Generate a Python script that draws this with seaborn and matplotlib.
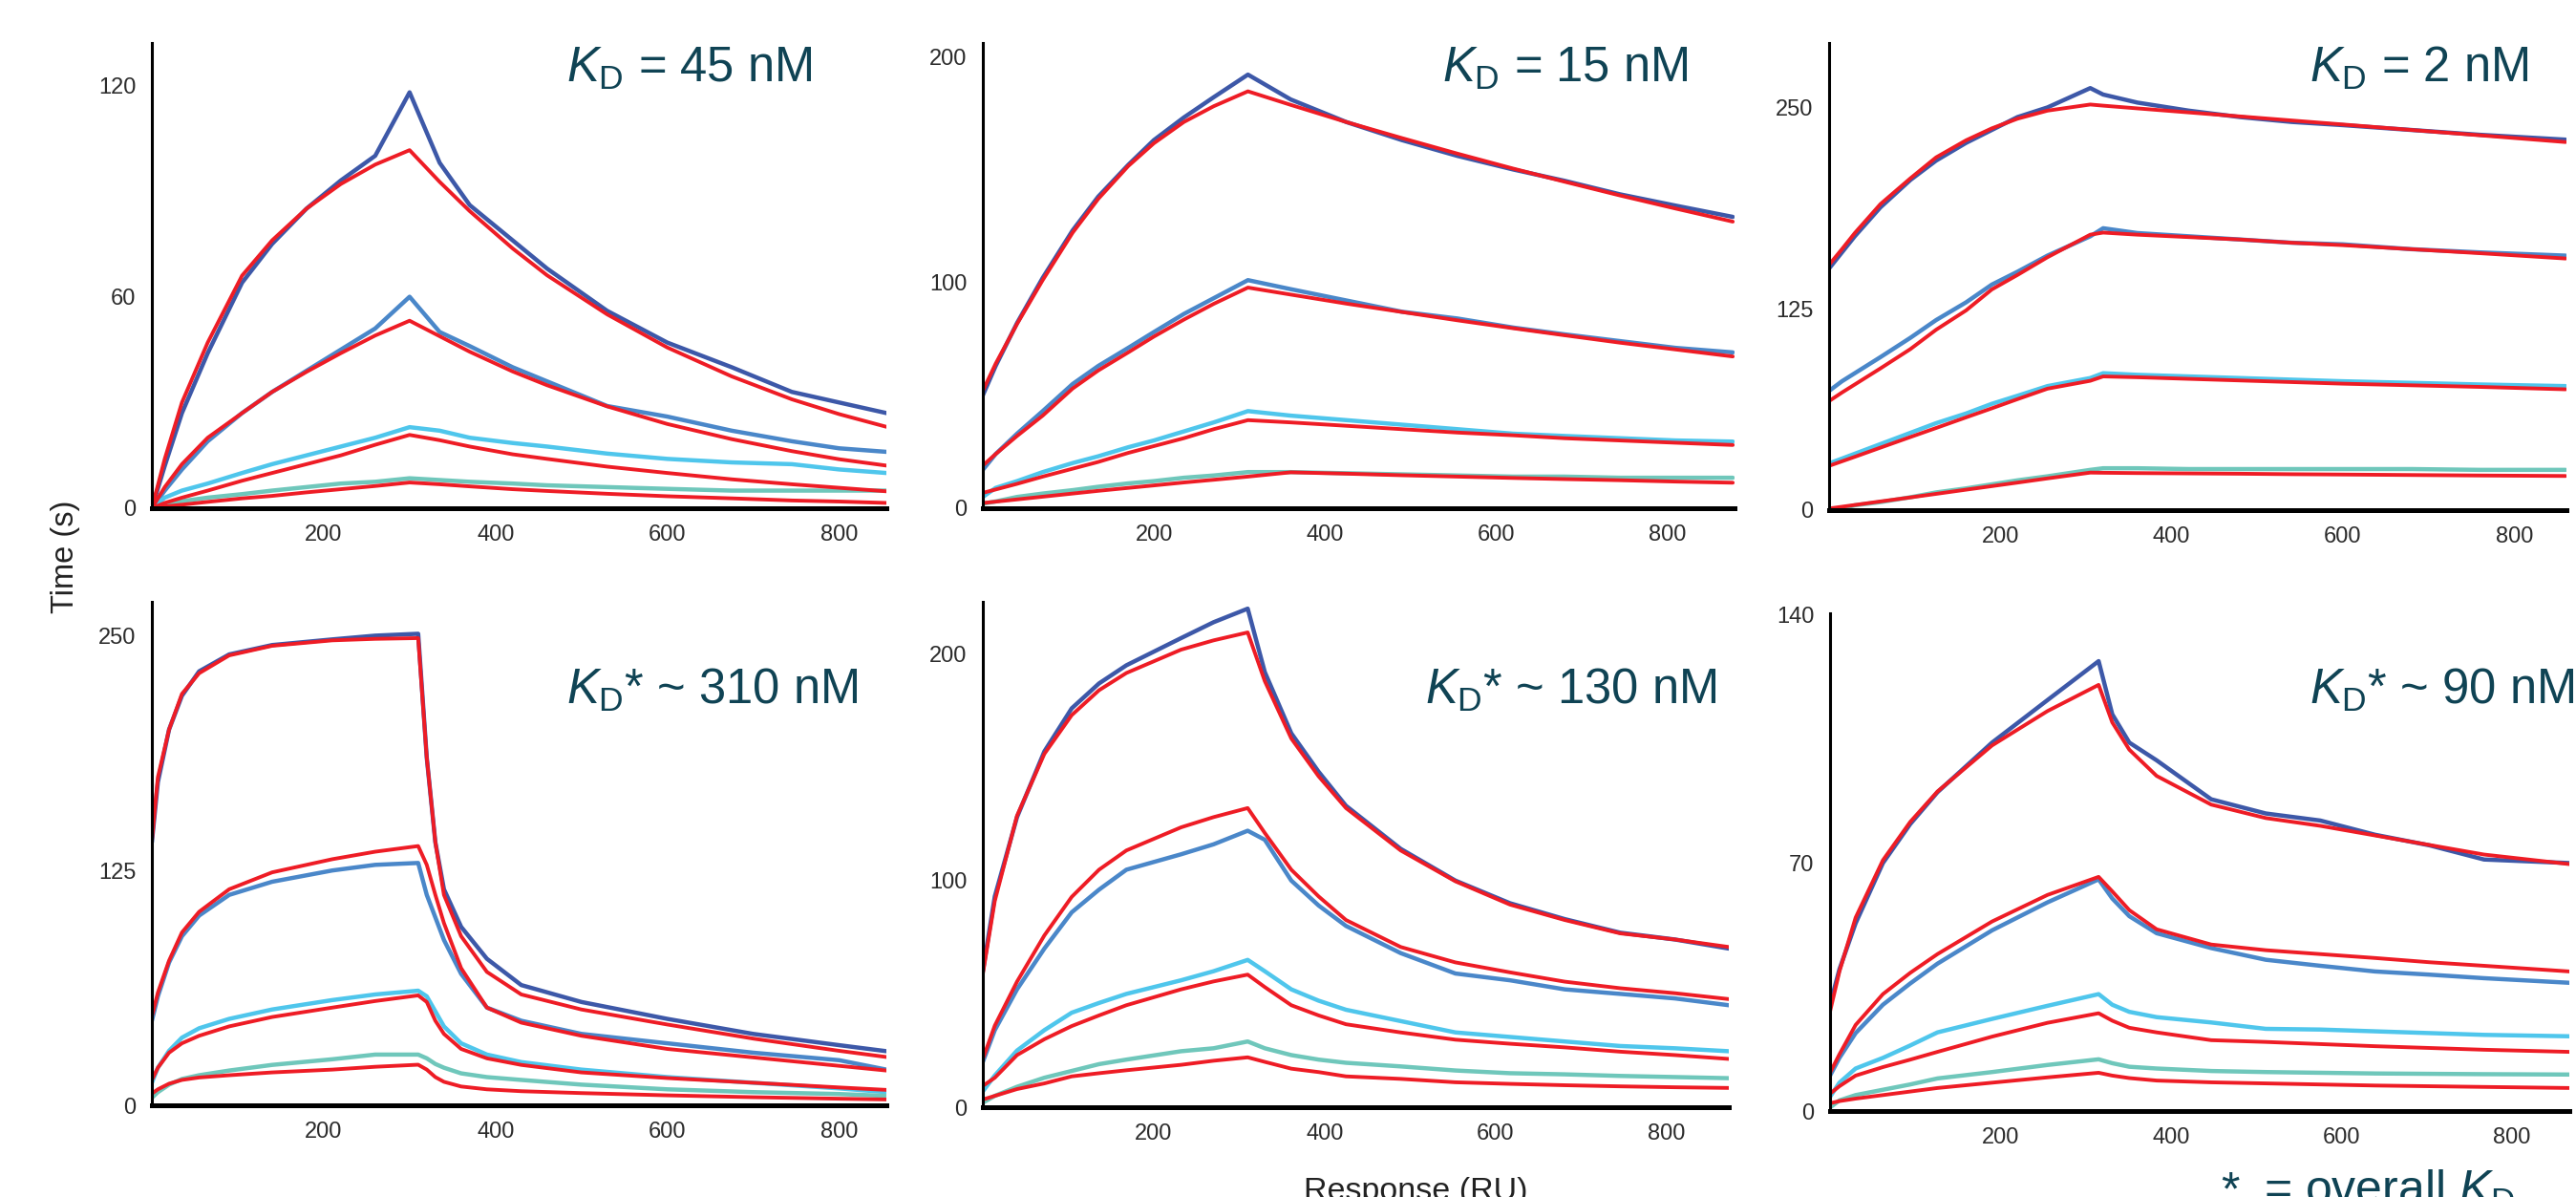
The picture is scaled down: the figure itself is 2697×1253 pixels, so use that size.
import matplotlib
matplotlib.use("Agg")
import matplotlib.pyplot as plt
import pandas as pd
import seaborn as sns

# === Sensorgram values (4 concentrations per panel) ===
conc_levels = ["high", "mid", "low", "lowest"]

# KD = 45 nM
t_kd45 = [0, 15, 35, 65, 105, 140, 180, 220, 260, 300, 335, 370, 420, 460, 530, 600, 675, 745, 800, 855]
obs_kd45 = [
    [0, 12, 27, 44, 64, 75, 85, 93, 100, 118, 98, 86, 76, 68, 56, 47, 40, 33, 30, 27],
    [0, 5, 11, 19, 27, 33, 39, 45, 51, 60, 50, 46, 40, 36, 29, 26, 22, 19, 17, 16],
    [0, 3, 5, 7, 10, 12.5, 15, 17.5, 20, 23, 22, 20, 18.5, 17.5, 15.5, 14, 13, 12.5, 11, 10],
    [0, 1, 2, 3, 4, 5, 6, 7, 7.5, 8.5, 8, 7.5, 7, 6.5, 6, 5.5, 5, 5, 5, 5],
]
fit_kd45 = [
    [0, 14, 30, 47, 66, 76, 85, 92, 97.5, 101.6, 92.6, 84.3, 73.7, 66.1, 55, 45.6, 37.4, 30.9, 26.7, 23.1],
    [0, 6, 12.5, 20, 27, 33, 38.7, 44, 49, 53.2, 48.8, 44.4, 38.8, 34.9, 28.9, 23.9, 19.6, 16.2, 13.9, 12.1],
    [0, 1.5, 3, 5, 7.8, 10, 12.5, 15, 18, 20.8, 19.3, 17.5, 15.3, 14, 11.8, 10, 8.2, 6.8, 5.8, 4.8],
    [0, 0.5, 1, 1.8, 2.8, 3.5, 4.5, 5.4, 6.3, 7.3, 6.8, 6.2, 5.4, 4.9, 4.1, 3.4, 2.8, 2.2, 1.9, 1.5],
]

# KD = 15 nM
t_kd15 = [0, 15, 40, 70, 105, 135, 170, 200, 235, 270, 310, 360, 425, 490, 555, 620, 680, 745, 810, 877]
obs_kd15 = [
    [50, 63, 82, 102, 123, 138, 152, 163, 173, 182, 192, 181, 171, 163, 156, 150, 145, 139, 134, 129],
    [17, 24, 33, 43, 55, 63, 71, 78, 86, 93, 101, 97, 92, 87, 84, 80, 77, 74, 71, 69],
    [5, 9, 12, 16, 20, 23, 27, 30, 34, 38, 43, 41, 39, 37, 35, 33, 32, 31, 30, 29.5],
    [2, 3, 5, 6.5, 8, 9.5, 11, 12, 13.5, 14.5, 16, 16, 15.5, 15, 14.5, 14, 14, 13.5, 13.5, 13.5],
]
fit_kd15 = [
    [52, 64, 81.6, 101, 122, 137, 151.5, 161.6, 171, 178, 184.6, 178.6, 171, 163.9, 157, 150.4, 144.6, 138.5, 132.7, 126.9],
    [18.9, 24, 32, 41, 53, 61, 69, 76, 83.5, 90.5, 97.7, 94.6, 90.6, 86.9, 83.2, 79.7, 76.6, 73.3, 70.3, 67.2],
    [6.8, 8.3, 10.8, 14, 17.5, 20.5, 24.5, 27.5, 31, 35, 39, 38, 36.5, 35, 33.5, 32.3, 31, 30, 29, 28],
    [2.3, 2.9, 3.9, 5.1, 6.5, 7.7, 9, 10.1, 11.4, 12.6, 14, 15.9, 15.3, 14.6, 14, 13.4, 12.9, 12.4, 11.8, 11.3],
]

# KD = 2 nM
t_kd2 = [0, 15, 30, 60, 95, 125, 160, 190, 220, 255, 305, 320, 360, 420, 480, 540, 600, 680, 760, 860]
obs_kd2 = [
    [150, 160, 170, 188, 205, 217, 228, 236, 244, 250, 262, 258, 253, 248, 244, 241, 239, 236, 233, 230],
    [74, 80, 85, 95, 107, 118, 129, 140, 148, 158, 170, 175, 172, 170, 168, 166, 165, 162, 160, 158],
    [29, 32, 35, 41, 48, 54, 60, 66, 71, 77, 82, 85, 84, 83, 82, 81, 80, 79, 78, 77],
    [0, 1, 3, 5, 8, 11, 13.5, 16, 18.5, 21, 25, 26, 26, 25.5, 25.5, 25.5, 25.5, 25.5, 25, 25],
]
fit_kd2 = [
    [152.3, 162, 172, 190, 206, 219, 229.6, 237, 243, 248, 251.8, 251.1, 249.4, 246.9, 244.4, 241.9, 239.4, 236, 232.7, 228.5],
    [67.7, 73, 78, 88, 100, 112, 124, 137, 146, 157, 171, 172.3, 171, 169.5, 168, 166, 164.5, 162, 159.5, 156.2],
    [27.5, 30.3, 33.1, 38.8, 45.4, 51, 57.6, 63.2, 68.9, 75.4, 80.3, 83, 82.5, 81.5, 80.5, 79.5, 78.5, 77.5, 76.5, 75],
    [1, 2.1, 3.2, 5.4, 7.9, 10.1, 12.7, 14.9, 17.1, 19.7, 23.3, 23.2, 23, 22.8, 22.6, 22.3, 22.1, 21.8, 21.5, 21.2],
]

# KD* ~ 310 nM
t_kd310 = [0, 7, 20, 35, 55, 90, 140, 210, 260, 310, 320, 330, 340, 360, 390, 430, 500, 600, 700, 800, 855]
obs_kd310 = [
    [140, 172, 200, 218, 231, 240, 245, 248, 250, 251, 185, 140, 115, 95, 78, 64, 55, 46, 38, 32, 28.8],
    [45, 58, 76, 90, 101, 112, 119, 125, 128, 129, 112, 100, 88, 70, 52, 45, 38, 33, 28, 24, 19],
    [12, 20, 29, 36, 41, 46, 51, 56, 59, 61, 58, 50, 42, 33, 27, 23, 19, 15, 12, 9, 7],
    [4, 7, 11, 14, 16, 18.5, 21.5, 24.5, 27, 27, 25, 22, 20, 17, 15, 13.5, 11, 8.5, 7, 6, 5],
]
fit_kd310 = [
    [140.8, 174.7, 200, 219, 230, 239.5, 244.6, 247.5, 248.3, 248.7, 185, 140, 112, 90, 71, 59, 51, 43, 35.5, 29, 25.7],
    [47.3, 60, 77, 92, 103, 115, 124, 131, 135, 138, 128, 112, 97, 73, 52, 44, 37, 30, 25.5, 21, 18.5],
    [13.4, 20, 28, 33, 37, 42, 47, 52, 55.5, 58.5, 55, 45, 38, 30, 25, 21.5, 17.5, 14.5, 12, 9.5, 8.2],
    [6.2, 8.5, 11.5, 13.5, 14.8, 16, 17.5, 19, 20.5, 21.6, 19, 15, 12.5, 10, 8.5, 7.5, 6.5, 5.3, 4.3, 3.5, 3.1],
]

# KD* ~ 130 nM
t_kd130 = [0, 14, 40, 72, 104, 136, 168, 232, 270, 310, 330, 361, 393, 425, 489, 553, 617, 681, 746, 810, 873]
obs_kd130 = [
    [60, 93, 128, 157, 176, 187, 195, 207, 214, 220, 192, 165, 148, 133, 114, 100, 90, 83, 77, 74, 70],
    [20, 34, 52, 70, 86, 96, 104.8, 111.6, 116, 122, 118, 100, 89, 80, 68, 59, 56, 52, 50, 48, 45],
    [7, 14, 25, 34, 41.7, 46, 50, 56, 60, 65, 60, 52, 47, 43, 38, 33, 31, 29, 27, 26, 24.7],
    [2, 5, 9, 13, 16, 19, 21, 24.7, 26, 29, 26, 23, 21, 19.6, 18, 16.2, 15, 14.5, 13.8, 13.3, 12.8],
]
fit_kd130 = [
    [58.8, 91, 128.6, 155.9, 173, 184, 191.6, 201.9, 206, 209.5, 188, 162.7, 146, 132, 113.3, 99.7, 89.4, 82.6, 76.7, 74, 70.7],
    [21.3, 36, 55.4, 75.8, 92.8, 104.8, 113.3, 123.5, 128, 132, 121, 104.8, 93, 82.6, 70.7, 63.9, 59.5, 55.4, 52.5, 50.3, 47.7],
    [9.4, 13, 23, 30, 35.8, 40.5, 45, 52, 55.5, 58.5, 53, 45, 40.5, 36.6, 33, 29.8, 28, 26.4, 24.5, 23, 21.3],
    [3.4, 5, 8, 10.5, 13.6, 15, 16.3, 18.7, 20.5, 22, 20, 17, 15.5, 13.6, 12.5, 11, 10.3, 9.7, 9.2, 8.8, 8.5],
]

# KD* ~ 90 nM
t_kd90 = [0, 11, 30, 62, 94, 126, 190, 255, 315, 331, 351, 383, 447, 511, 575, 639, 703, 767, 867]
obs_kd90 = [
    [30, 40, 53, 70, 81, 90, 104, 116, 127, 112, 104, 99, 88, 84, 82, 78, 75, 71, 70],
    [10, 15, 22, 30, 36, 41.6, 51, 58.9, 65.4, 60, 55, 50.2, 46, 42.7, 41, 39.4, 38.5, 37.5, 36.2],
    [4, 8, 12, 15, 18.5, 22.2, 26, 29.7, 33, 30, 28, 26.5, 25, 23.2, 23, 22.5, 22, 21.5, 21.1],
    [1, 3, 4.5, 6, 7.5, 9.2, 11, 13, 14.6, 13.5, 12.5, 12, 11.3, 11, 10.8, 10.6, 10.5, 10.4, 10.3],
]
fit_kd90 = [
    [28.1, 39.4, 54.6, 70.8, 81.6, 90.2, 103.2, 112.9, 120.3, 109.7, 102, 94.6, 86.5, 82.7, 80.5, 77.8, 75.1, 72.4, 69.7],
    [10.8, 16, 24.3, 33, 39, 44.3, 53.5, 61, 66.1, 62, 56.7, 51.3, 47, 45.4, 44.3, 43.2, 42, 41, 39.4],
    [4.9, 7, 10, 12.4, 14.5, 16.7, 21, 24.9, 27.6, 25.5, 23.5, 22.2, 20, 19.5, 18.9, 18.3, 17.8, 17.3, 16.7],
    [2.2, 2.8, 3.5, 4.5, 5.5, 6.5, 8, 9.5, 10.8, 10, 9.3, 8.6, 8.1, 7.8, 7.5, 7.2, 7, 6.8, 6.5],
]

labels = [r"$K_\mathrm{D}$ = 45 nM", r"$K_\mathrm{D}$ = 15 nM", r"$K_\mathrm{D}$ = 2 nM",
          r"$K_\mathrm{D}$* ~ 310 nM", r"$K_\mathrm{D}$* ~ 130 nM", r"$K_\mathrm{D}$* ~ 90 nM"]
yticks_all = [[0, 60, 120], [0, 100, 200], [0, 125, 250], [0, 125, 250], [0, 100, 200], [0, 70, 140]]
xticks = [200, 400, 600, 800]

# === Styling / layout (pixels of a 2697x1253 canvas) ===
W, H = 2697, 1253
trace_colors = ["#3d58a8", "#4a87c9", "#4fc6ec", "#6fc7bb"]
fit_color = "#ee1c25"
text_color = "#0f4354"

# (left, right, top, bottom), xmax, ymax, label x, label baseline
layout = [
    ((159, 928, 45, 532), 855, 132, 593, 86),
    ((1029, 1816, 45, 532), 879, 206, 1510, 86),
    ((1915, 2687, 45, 534), 861, 290, 2418, 86),
    ((159, 928, 630, 1157), 855, 268, 593, 737),
    ((1029, 1810, 630, 1159), 873, 223, 1492, 737),
    ((1916, 2690, 642, 1163), 867, 140.5, 2418, 737),
]

sns.set_style("white")
plt.rcParams["font.family"] = ["Liberation Sans", "DejaVu Sans"]
plt.rcParams["mathtext.fontset"] = "custom"
plt.rcParams["mathtext.rm"] = "Liberation Sans"
plt.rcParams["mathtext.it"] = "Liberation Sans:italic"

panels = [
    (t_kd45, obs_kd45, fit_kd45),
    (t_kd15, obs_kd15, fit_kd15),
    (t_kd2, obs_kd2, fit_kd2),
    (t_kd310, obs_kd310, fit_kd310),
    (t_kd130, obs_kd130, fit_kd130),
    (t_kd90, obs_kd90, fit_kd90),
]


def long_table(t, series):
    rows = []
    for conc, vals in zip(conc_levels, series):
        for ti, vi in zip(t, vals):
            rows.append({"t": ti, "v": vi, "conc": conc})
    return pd.DataFrame(rows)


fig = plt.figure(figsize=(W / 100, H / 100), dpi=100)

for (t, obs, fit), (box, xmax, ymax, lx, ly), label, yt in zip(panels, layout, labels, yticks_all):
    l, r, top, bot = box
    ax = fig.add_axes([l / W, 1 - bot / H, (r - l) / W, (bot - top) / H])
    ax.set_facecolor("none")

    df_obs = long_table(t, obs)
    df_fit = long_table(t, fit)
    sns.lineplot(data=df_obs, x="t", y="v", hue="conc", hue_order=conc_levels,
                 palette=trace_colors, estimator=None, sort=False, lw=3.2,
                 legend=False, ax=ax)
    sns.lineplot(data=df_fit, x="t", y="v", units="conc", color=fit_color,
                 estimator=None, sort=False, lw=2.8, legend=False, ax=ax)

    ax.set_xlim(0, xmax)
    ax.set_ylim(0, ymax)
    ax.set_xticks(xticks)
    ax.set_yticks(yt)
    ax.set_xlabel("")
    ax.set_ylabel("")
    ax.tick_params(length=0, labelsize=17, labelcolor="#2b2b2b")
    ax.tick_params(axis="y", pad=12)
    ax.tick_params(axis="x", pad=12)
    sns.despine(ax=ax)
    ax.spines["left"].set_linewidth(2.2)
    ax.spines["bottom"].set_linewidth(3.6)
    ax.spines["left"].set_color("black")
    ax.spines["bottom"].set_color("black")

    fig.text(lx / W, 1 - ly / H, label, fontsize=36.5, color=text_color,
             ha="left", va="baseline")

fig.text(68 / W, 1 - 583 / H, "Time (s)", rotation=90, fontsize=23.5,
         color="#222222", ha="center", va="center")
fig.text(1482 / W, 1 - 1256 / H, "Response (RU)", fontsize=24.5,
         color="#222222", ha="center", va="baseline")
fig.text(2325 / W, 1 - 1261 / H, "*", fontsize=36, color=text_color,
         ha="left", va="baseline")
fig.text(2370 / W, 1 - 1261 / H, r"= overall $K_\mathrm{D}$", fontsize=36,
         color=text_color, ha="left", va="baseline")

fig.savefig("out.png", dpi=100)
